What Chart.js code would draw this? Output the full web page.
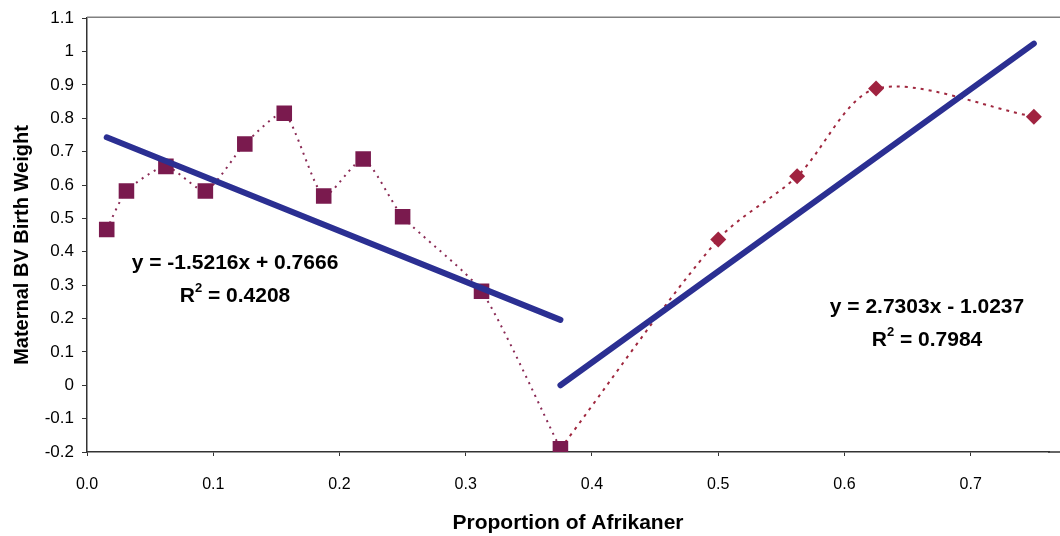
<!DOCTYPE html>
<html>
<head>
<meta charset="utf-8">
<script src="https://cdn.jsdelivr.net/npm/chart.js@4/dist/chart.umd.min.js"></script>
<style>
  html, body { margin: 0; padding: 0; background: #ffffff; }
  #wrap { width: 1060px; height: 536px; position: relative; }
</style>
</head>
<body>
<div id="wrap"><canvas id="c" width="1060" height="536"></canvas></div>
<script>
// ---- data ----
const squareX = [0.015625, 0.03125, 0.0625, 0.09375, 0.125, 0.15625, 0.1875, 0.21875, 0.25, 0.3125, 0.375];
const squareY = [0.467, 0.582, 0.656, 0.582, 0.723, 0.815, 0.567, 0.678, 0.505, 0.282, -0.19];
const diamondX = [0.5, 0.5625, 0.625, 0.75];
const diamondY = [0.437, 0.626, 0.889, 0.805];
const leftTrendX = [0.015625, 0.375];
const leftTrendY = [0.743, 0.196];
const rightTrendX = [0.375, 0.75];
const rightTrendY = [0.0001, 1.024];
const xTickValues = [0, 0.1, 0.2, 0.3, 0.4, 0.5, 0.6, 0.7];
const xTickLabels = ['0.0', '0.1', '0.2', '0.3', '0.4', '0.5', '0.6', '0.7'];
const yTickValues = [1.1, 1, 0.9, 0.8, 0.7, 0.6, 0.5, 0.4, 0.3, 0.2, 0.1, 0, -0.1, -0.2];
const yTickLabels = ['1.1', '1', '0.9', '0.8', '0.7', '0.6', '0.5', '0.4', '0.3', '0.2', '0.1', '0', '-0.1', '-0.2'];
const leftEquation = ['y = -1.5216x + 0.7666', '0.4208'];
const rightEquation = ['y = 2.7303x - 1.0237', '0.7984'];
const xTitle = 'Proportion of Afrikaner';
const yTitle = 'Maternal BV Birth Weight';

const pts = (xs, ys) => xs.map((x, i) => ({ x: x, y: ys[i] }));

// dotted line continues from the last square to the diamonds
const connectX = [squareX[squareX.length - 1]].concat(diamondX);
const connectY = [squareY[squareY.length - 1]].concat(diamondY);

const FONT = "'Liberation Sans', Arial, sans-serif";

const overlay = {
  id: 'overlay',
  beforeDatasetsDraw(chart) {
    const { ctx, chartArea } = chart;
    ctx.save();
    ctx.strokeStyle = '#808080';
    ctx.lineWidth = 1.5;
    ctx.beginPath();
    ctx.moveTo(chartArea.left, chartArea.top - 1);
    ctx.lineTo(chart.width, chartArea.top - 1);
    ctx.stroke();
    // extend the bottom axis line to the picture edge
    ctx.strokeStyle = '#333';
    ctx.beginPath();
    ctx.moveTo(chartArea.right - 1, chartArea.bottom);
    ctx.lineTo(chart.width, chartArea.bottom);
    ctx.stroke();
    ctx.restore();
  },
  afterDraw(chart) {
    const { ctx } = chart;
    ctx.save();
    ctx.fillStyle = '#000';
    ctx.textBaseline = 'middle';
    // y-axis title
    ctx.save();
    ctx.translate(22, 245);
    ctx.rotate(-Math.PI / 2);
    ctx.textAlign = 'center';
    ctx.font = 'bold 20px ' + FONT;
    ctx.fillText(yTitle, 0, 0);
    ctx.restore();

    function eq(lines, cx, cy1, cy2) {
      ctx.textAlign = 'center';
      ctx.font = 'bold 21px ' + FONT;
      ctx.fillText(lines[0], cx, cy1);
      const a = 'R', b = ' = ' + lines[1];
      const wa = ctx.measureText(a).width;
      const wb = ctx.measureText(b).width;
      ctx.font = 'bold 13px ' + FONT;
      const ws = ctx.measureText('2').width;
      const total = wa + ws + wb;
      const x0 = cx - total / 2;
      ctx.textAlign = 'left';
      ctx.font = 'bold 21px ' + FONT;
      ctx.fillText(a, x0, cy2);
      ctx.font = 'bold 13px ' + FONT;
      ctx.fillText('2', x0 + wa, cy2 - 8);
      ctx.font = 'bold 21px ' + FONT;
      ctx.fillText(b, x0 + wa + ws, cy2);
    }
    eq(leftEquation, 235, 263, 296);
    eq(rightEquation, 927, 307, 340);
    ctx.restore();
  }
};

new Chart(document.getElementById('c'), {
  type: 'scatter',
  data: {
    datasets: [
      {
        label: 'left trend',
        type: 'line',
        data: pts(leftTrendX, leftTrendY),
        borderColor: '#2b2f92',
        borderWidth: 6,
        borderCapStyle: 'round',
        pointRadius: 0,
        showLine: true,
        order: 0
      },
      {
        label: 'right trend',
        type: 'line',
        data: pts(rightTrendX, rightTrendY),
        borderColor: '#2b2f92',
        borderWidth: 6,
        borderCapStyle: 'round',
        pointRadius: 0,
        showLine: true,
        order: 0
      },
      {
        label: 'squares',
        type: 'line',
        data: pts(squareX, squareY),
        borderColor: '#8a2a55',
        borderWidth: 2,
        borderDash: [2, 5],
        tension: 0.2,
        pointStyle: 'rect',
        pointRadius: 11,
        pointBackgroundColor: '#7a1a4e',
        pointBorderColor: '#7a1a4e',
        pointBorderWidth: 0,
        showLine: true,
        order: 1
      },
      {
        label: 'diamonds',
        type: 'line',
        data: pts(connectX, connectY),
        borderColor: '#a0283f',
        borderWidth: 2,
        borderDash: [3, 5],
        tension: 0.3,
        pointStyle: 'rectRot',
        pointRadius: [0, 8, 8, 8, 8],
        pointBackgroundColor: '#a02340',
        pointBorderColor: '#a02340',
        pointBorderWidth: 0,
        showLine: true,
        order: 1
      }
    ]
  },
  options: {
    responsive: false,
    animation: false,
    devicePixelRatio: 1,
    layout: { padding: { top: 14, right: 0, left: 0, bottom: 0 } },
    plugins: { legend: { display: false }, tooltip: { enabled: false } },
    scales: {
      x: {
        type: 'linear',
        min: 0,
        max: 0.762,
        afterBuildTicks(scale) { scale.ticks = xTickValues.map(v => ({ value: v })); },
        afterFit(scale) { scale.height = 84; },
        ticks: {
          callback(value) {
            const i = xTickValues.findIndex(v => Math.abs(v - value) < 1e-9);
            return i >= 0 ? xTickLabels[i] : '';
          },
          font: { family: FONT, size: 16 },
          color: '#000',
          padding: 19,
          maxRotation: 0,
          autoSkip: false
        },
        grid: { drawOnChartArea: false, drawTicks: true, tickLength: 4, color: '#333', tickColor: '#333' },
        border: { display: true, color: '#333', width: 1.5 },
        title: {
          display: true,
          text: xTitle,
          font: { family: FONT, size: 21, weight: 'bold' },
          color: '#000',
          padding: { top: 6, bottom: 0 }
        }
      },
      y: {
        type: 'linear',
        min: -0.2,
        max: 1.1,
        afterBuildTicks(scale) { scale.ticks = yTickValues.map(v => ({ value: v })); },
        afterFit(scale) { scale.width = 87; },
        ticks: {
          callback(value) {
            const i = yTickValues.findIndex(v => Math.abs(v - value) < 1e-9);
            return i >= 0 ? yTickLabels[i] : '';
          },
          font: { family: FONT, size: 17 },
          color: '#000',
          padding: 8,
          autoSkip: false
        },
        grid: { drawOnChartArea: false, drawTicks: true, tickLength: 5, color: '#333', tickColor: '#333' },
        border: { display: true, color: '#333', width: 1.5 },
        title: { display: false }
      }
    }
  },
  plugins: [overlay]
});
</script>
</body>
</html>
